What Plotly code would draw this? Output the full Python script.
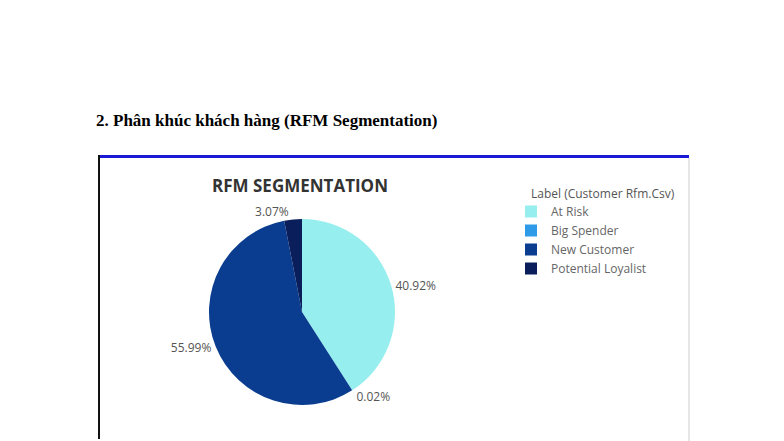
import plotly.graph_objects as go

W, H = 784, 441

# data
segments = ["At Risk", "Big Spender", "New Customer", "Potential Loyalist"]
shares = [40.92, 0.02, 55.99, 3.07]
seg_colors = ["#97EEEE", "#2E9BE8", "#0A3D8F", "#0B1E5C"]

heading = "2. Phân khúc khách hàng (RFM Segmentation)"
chart_title = "RFM SEGMENTATION"
legend_title = "Label (Customer Rfm.Csv)"


def px(x):
    return x / W


def py(y):
    return 1 - y / H


fig = go.Figure()
fig.add_trace(go.Pie(
    labels=segments,
    values=shares,
    marker=dict(colors=seg_colors, line=dict(width=0)),
    sort=False,
    direction="clockwise",
    rotation=0,
    textposition="outside",
    texttemplate="%{value:.2f}%",
    textfont=dict(family="Open Sans", size=12, color="#555555"),
    hoverinfo="label+percent",
    domain=dict(x=[px(209), px(395)], y=[py(405), py(219)]),
))

shapes = [
    # blue top border of the embedded picture
    dict(type="line", xref="paper", yref="paper",
         x0=px(98), x1=px(689), y0=py(156.5), y1=py(156.5),
         line=dict(color="#1a1ad6", width=3)),
    # black left border
    dict(type="line", xref="paper", yref="paper",
         x0=px(99), x1=px(99), y0=py(155), y1=py(439),
         line=dict(color="#111111", width=2)),
    # faint right edge
    dict(type="line", xref="paper", yref="paper",
         x0=px(689), x1=px(689), y0=py(158), y1=py(441),
         line=dict(color="#e6e6e6", width=2)),
]

annotations = [
    dict(text="<b>" + heading + "</b>", xref="paper", yref="paper",
         x=px(94), y=py(120), xanchor="left", yanchor="middle", showarrow=False,
         font=dict(family="Liberation Serif", size=17, color="#000000")),
    dict(text="<b>" + chart_title + "</b>", xref="paper", yref="paper",
         x=px(300), y=py(185), xanchor="center", yanchor="middle", showarrow=False,
         font=dict(family="Open Sans", size=17, color="#333333")),
    dict(text=legend_title, xref="paper", yref="paper",
         x=px(529), y=py(193), xanchor="left", yanchor="middle", showarrow=False,
         font=dict(family="Open Sans", size=12, color="#555555")),
]

fig.update_layout(
    width=W, height=H,
    margin=dict(l=0, r=0, t=0, b=0),
    paper_bgcolor="white",
    plot_bgcolor="white",
    shapes=shapes,
    annotations=annotations,
    showlegend=True,
    legend=dict(
        x=px(511), y=py(197), xanchor="left", yanchor="top",
        font=dict(family="Open Sans", size=12, color="#666666"),
        tracegroupgap=0, itemwidth=30,
    ),
)

# the page's default body margin would push the figure off by 8px
fig.write_html("out.html", config={"displayModeBar": False},
               post_script="document.body.style.margin = '0';")
